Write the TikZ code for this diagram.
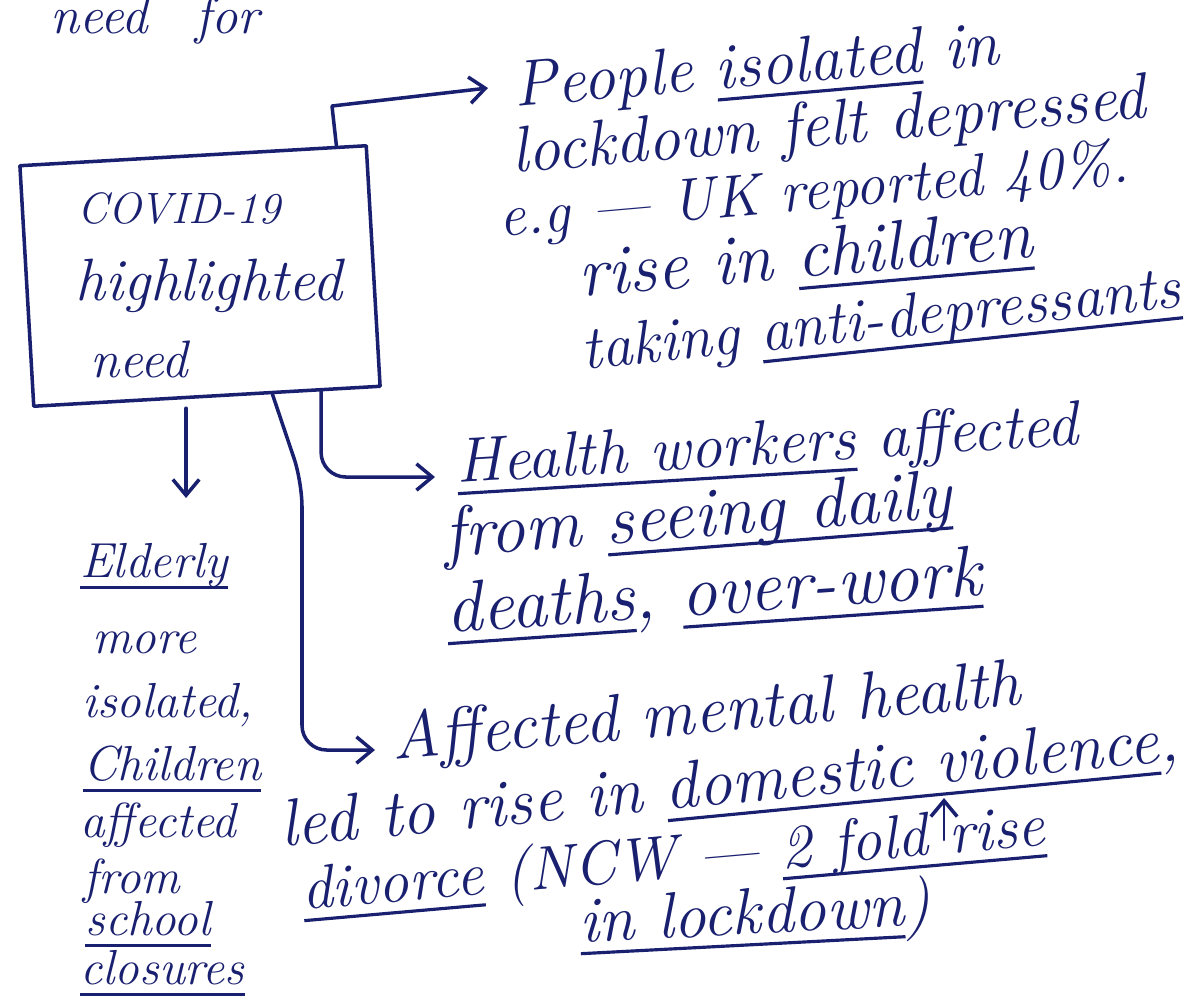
\documentclass[tikz,border=0pt]{standalone}
\usetikzlibrary{calc,arrows.meta}
\definecolor{ink}{RGB}{26,32,112}
\newcommand\ul[1]{\setbox0\hbox{#1}\rlap{\rule[-7pt]{\wd0}{1.8pt}}\box0\relax}

\tikzset{
  note/.style={anchor=base west,inner sep=0pt,text=ink,
    font=\fontsize{#1}{#1}\selectfont\itshape},
  note/.default=37,
  link/.style={draw=ink,line width=2pt,line cap=round,line join=round},
  tip/.style={-{Straight Barb[length=9pt,width=15pt,line width=2pt]}}
}

\begin{document}
\begin{tikzpicture}[x=0.02cm,y=-0.02cm]
  \useasboundingbox[fill=white] (0,0) rectangle (1196,1004);

  \node[note=30] (t0) at (50,33) {need\hspace{0.9em}for};

  \node[link,rotate=3.3,minimum width=6.94cm,minimum height=4.82cm] (box) at (200,276) {};
  \node[note=25] (c1) at (77,223) {COVID-19};
  \node[note=34] (c2) at (75,300) {highlighted};
  \node[note=30] (c3) at (90,377) {need};

  \node[note,rotate=5] (p1) at (515,107) {People \ul{isolated} in};
  \node[note,rotate=5] (p2) at (513,173) {lockdown felt depressed};
  \node[note=34,rotate=5] (p3) at (500,237) {e.g --- UK reported 40\%.};
  \node[note=40,rotate=5] (p4) at (580,297) {rise in \ul{children}};
  \node[note=35,rotate=6] (p5) at (583,370) {taking \ul{anti-depressants}};

  \node[note=36,rotate=3.5] (h1) at (457,483) {\ul{Health workers} affected};
  \node[note=40,rotate=4.5] (h2) at (445,557) {from \ul{seeing daily}};
  \node[note=41,rotate=4] (h3) at (447,633) {\ul{deaths}, \ul{over-work}};

  \node[note=28] (e1) at (80,577) {\ul{Elderly}};
  \node[note=28] (e2) at (92,653) {more};
  \node[note=28] (e3) at (82,717) {isolated,};
  \node[note=28] (e4) at (83,780) {\ul{Children}};
  \node[note=28] (e5) at (80,837) {affected};
  \node[note=28] (e6) at (83,893) {from};
  \node[note=28] (e7) at (85,935) {\ul{school}};
  \node[note=28] (e8) at (80,984) {\ul{closures}};

  \node[note=38,rotate=5] (a1) at (393,760) {Affected mental health};
  \node[note=38,rotate=5.5] (a2) at (282,847) {led to rise in \ul{domestic violence},};
  \node[note=35,rotate=5] (a3) at (303,910) {\ul{divorce} (NCW --- \ul{2 fold rise}};
  \node[note=37,rotate=3] (a4) at (580,943) {\ul{in lockdown})};

  \coordinate (up) at (332,106);
  \coordinate (bend) at (302,482);
  \coordinate (etip) at (193,498);
  \coordinate (rs) at (944,840);
  \coordinate (vl) at (944,798);

  \draw[link,tip] ($(box.north west)!0.91!(box.north east)$) -- (up) -- ($(p1.base west)+(-27,-19)$);
  \draw[link,tip,rounded corners=14pt] ($(box.south west)!0.826!(box.south east)$) |- ($(h1.base west)+(-22,-6)$);
  \draw[link,tip,rounded corners=14pt] ($(box.south west)!0.687!(box.south east)$) -- (bend) |- ($(a1.base west)+(-18,-10)$);
  \coordinate (estart) at ($(box.south west)!0.44!(box.south east)+(0,9)$);
  \draw[link,tip] (estart) -- (estart |- etip);
  \draw[link,tip,line width=1.5pt] (rs) -- (vl);
\end{tikzpicture}
\end{document}
